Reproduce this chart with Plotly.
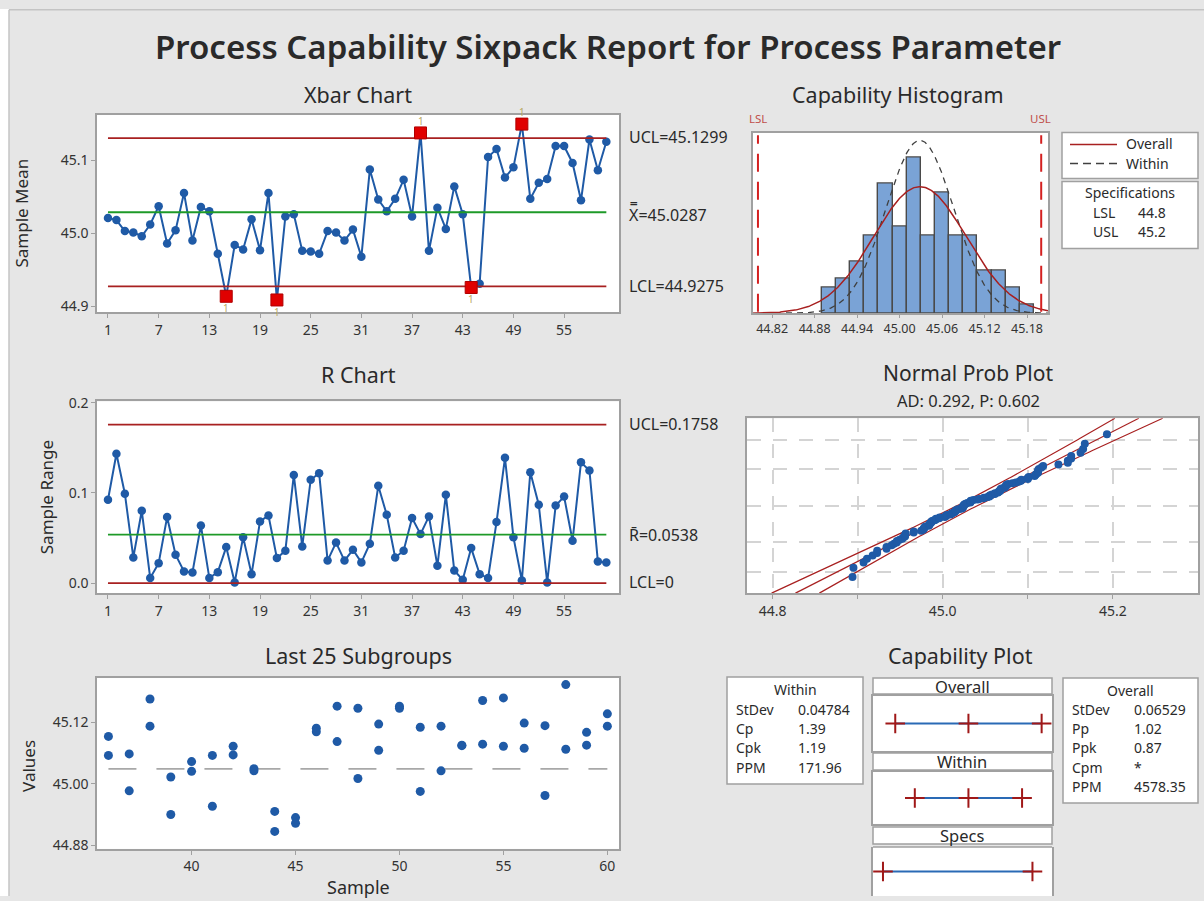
import numpy as np
import plotly.graph_objects as go
from statistics import NormalDist

W, H = 1204, 901

# ---------------- data ----------------
samples = list(range(1, 61))
xbar = [45.021, 45.018, 45.003, 45.001, 44.996, 45.012, 45.037, 44.986, 45.004, 45.055,
        44.990, 45.036, 45.030, 44.972, 44.914, 44.984, 44.978, 45.019, 44.977, 45.055,
        44.909, 45.023, 45.026, 44.976, 44.975, 44.972, 45.003, 45.001, 44.990, 45.005,
        44.968, 45.087, 45.046, 45.030, 45.047, 45.073, 45.023, 45.137, 44.976, 45.035,
        45.006, 45.064, 45.026, 44.926, 44.931, 45.104, 45.115, 45.076, 45.090, 45.149,
        45.047, 45.069, 45.074, 45.119, 45.119, 45.096, 45.045, 45.128, 45.086, 45.125]
rng = [0.0925, 0.1436, 0.0992, 0.0285, 0.0803, 0.0056, 0.0222, 0.0733, 0.0315, 0.0130,
       0.0118, 0.0640, 0.0056, 0.0122, 0.0400, 0.0007, 0.0510, 0.0100, 0.0685, 0.0750,
       0.0278, 0.0360, 0.1200, 0.0407, 0.1147, 0.1220, 0.0250, 0.0450, 0.0250, 0.0370,
       0.0230, 0.0437, 0.1080, 0.0759, 0.0285, 0.0359, 0.0722, 0.0544, 0.0740, 0.0192,
       0.0980, 0.0140, 0.0037, 0.0389, 0.0100, 0.0056, 0.0677, 0.1390, 0.0510, 0.0030,
       0.1230, 0.0870, 0.0007, 0.0860, 0.0960, 0.0470, 0.1340, 0.1250, 0.0240, 0.0230]
xbar_ucl, xbar_cl, xbar_lcl = 45.1299, 45.0287, 44.9275
r_ucl, r_cl, r_lcl = 0.1758, 0.0538, 0.0

last_samples = list(range(36, 61))
obs_a = [45.092, 45.058, 45.165, 45.013, 45.043, 45.055, 45.073, 45.029, 44.946, 44.934,
         45.108, 45.151, 45.147, 45.116, 45.151, 45.110, 45.112, 45.075, 45.162, 45.167,
         45.118, 45.113, 45.193, 45.100, 45.136]
obs_b = [45.055, 44.986, 45.112, 44.940, 45.024, 44.956, 45.056, 45.025, 44.907, 44.923,
         45.101, 45.082, 45.010, 45.065, 45.147, 44.985, 45.025, 45.074, 45.077, 45.073,
         45.069, 44.977, 45.067, 45.075, 45.112]

hist_bins = [44.90, 44.92, 44.94, 44.96, 44.98, 45.00, 45.02, 45.04, 45.06, 45.08,
             45.10, 45.12, 45.14, 45.16, 45.18]
hist_counts = [3, 4, 6, 9, 15, 10, 18, 9, 14, 9, 9, 5, 5, 3, 1]
bin_width = 0.02
n_total = 120

LSL, USL = 44.8, 45.2
mean_all = 45.0287
sd_within = 0.04784
sd_overall = 0.06529

xbar_ticks = [1, 7, 13, 19, 25, 31, 37, 43, 49, 55]
hist_ticks = [44.82, 44.88, 44.94, 45.00, 45.06, 45.12, 45.18]
last_ticks = [40, 45, 50, 55, 60]

within_stats = [("StDev", "0.04784"), ("Cp", "1.39"), ("Cpk", "1.19"), ("PPM", "171.96")]
overall_stats = [("StDev", "0.06529"), ("Pp", "1.02"), ("Ppk", "0.87"), ("Cpm", "*"), ("PPM", "4578.35")]

# ---------------- helpers ----------------
FONT = "Noto Sans"
BLUE = "#1f5aa6"
DRED = "#a82020"
GREEN = "#1e9a28"
BORDER = "#a0a0a0"
TXT = "#2a2a2a"

# vertical calibration of the photographed page (page pixels -> figure pixels)
Y_OFF, Y_SCALE = 7.3, 0.9854


def fy(y):
    return min(max((y - Y_OFF) / Y_SCALE, 0.0), H)


def px(x):
    return x / W


def py(y):
    return 1 - fy(y) / H


def xd(a, b):
    return [a / W, b / W]


def yd(top, bottom):
    return [1 - fy(bottom) / H, 1 - fy(top) / H]


def axis(domain, rng, anchor, **kw):
    d = dict(domain=domain, range=rng, anchor=anchor, showline=True, mirror=True,
             linecolor=BORDER, linewidth=1.5, showgrid=False, zeroline=False,
             ticks="outside", ticklen=4, tickcolor=BORDER,
             tickfont=dict(family=FONT, size=14, color="#333333"))
    d.update(kw)
    return d


fig = go.Figure()

# ---------------- Xbar chart ----------------
fig.add_trace(go.Scatter(x=samples, y=xbar, mode="lines+markers",
                         line=dict(color=BLUE, width=2),
                         marker=dict(color=BLUE, size=8.5, symbol="circle"),
                         xaxis="x", yaxis="y", showlegend=False))
for val, col in [(xbar_ucl, DRED), (xbar_cl, GREEN), (xbar_lcl, DRED)]:
    fig.add_trace(go.Scatter(x=[samples[0], samples[-1]], y=[val, val], mode="lines",
                             line=dict(color=col, width=1.8), xaxis="x", yaxis="y",
                             showlegend=False, hoverinfo="skip"))
out_x = [s for s, v in zip(samples, xbar) if v > xbar_ucl or v < xbar_lcl]
out_y = [v for v in xbar if v > xbar_ucl or v < xbar_lcl]
fig.add_trace(go.Scatter(x=out_x, y=out_y, mode="markers",
                         marker=dict(color="#e00000", size=12, symbol="square",
                                     line=dict(color="#b00000", width=1)),
                         xaxis="x", yaxis="y", showlegend=False))

# ---------------- R chart ----------------
fig.add_trace(go.Scatter(x=samples, y=rng, mode="lines+markers",
                         line=dict(color=BLUE, width=2),
                         marker=dict(color=BLUE, size=8.5),
                         xaxis="x2", yaxis="y2", showlegend=False))
for val, col in [(r_ucl, DRED), (r_cl, GREEN), (r_lcl, DRED)]:
    fig.add_trace(go.Scatter(x=[samples[0], samples[-1]], y=[val, val], mode="lines",
                             line=dict(color=col, width=1.8), xaxis="x2", yaxis="y2",
                             showlegend=False, hoverinfo="skip"))

# ---------------- Last 25 subgroups ----------------
fig.add_trace(go.Scatter(x=[last_samples[0], last_samples[-1]], y=[mean_all, mean_all], mode="lines",
                         line=dict(color="#a8a8a8", width=1.8, dash="28px,20px"),
                         xaxis="x3", yaxis="y3", showlegend=False, hoverinfo="skip"))
fig.add_trace(go.Scatter(x=last_samples + last_samples, y=obs_a + obs_b, mode="markers",
                         marker=dict(color=BLUE, size=9), xaxis="x3", yaxis="y3", showlegend=False))

# ---------------- Capability histogram ----------------
fig.add_trace(go.Bar(x=hist_bins, y=hist_counts, width=bin_width,
                     marker=dict(color="#7aa3d6", line=dict(color="#4a4a4a", width=1.4)),
                     xaxis="x4", yaxis="y4", showlegend=False))
xs = np.linspace(44.793, 45.2096, 400)


def npdf(x, m, s):
    return np.exp(-0.5 * ((x - m) / s) ** 2) / (s * np.sqrt(2 * np.pi))


fig.add_trace(go.Scatter(x=xs, y=n_total * bin_width * npdf(xs, mean_all, sd_within), mode="lines",
                         line=dict(color="#404040", width=1.3, dash="6px,5px"),
                         xaxis="x4", yaxis="y4", showlegend=False, hoverinfo="skip"))
fig.add_trace(go.Scatter(x=xs, y=n_total * bin_width * npdf(xs, mean_all, sd_overall), mode="lines",
                         line=dict(color=DRED, width=1.5),
                         xaxis="x4", yaxis="y4", showlegend=False, hoverinfo="skip"))
for v in (LSL, USL):
    fig.add_trace(go.Scatter(x=[v, v], y=[0.2, 20.6], mode="lines",
                             line=dict(color="#d42020", width=2, dash="18px,10px"),
                             xaxis="x4", yaxis="y4", showlegend=False, hoverinfo="skip"))

# ---------------- Normal probability plot ----------------
all_vals = []
for i in range(35):
    all_vals += [xbar[i] - rng[i] / 2, xbar[i] + rng[i] / 2]
all_vals += obs_a + obs_b
all_vals = np.sort(np.array(all_vals))
n = len(all_vals)
nd = NormalDist()
zq = np.array([nd.inv_cdf((i - 0.3) / (n + 0.4)) for i in range(1, n + 1)])
zz = np.linspace(-3.09, 3.09, 200)
center = mean_all + zz * sd_overall
half = 1.96 * sd_overall * np.sqrt(1 / n + zz ** 2 / (2 * n))
for xx in (center - half, center, center + half):
    fig.add_trace(go.Scatter(x=xx, y=zz, mode="lines", line=dict(color=DRED, width=1.2),
                             xaxis="x5", yaxis="y5", showlegend=False, hoverinfo="skip"))
fig.add_trace(go.Scatter(x=all_vals, y=zq, mode="markers", marker=dict(color=BLUE, size=8),
                         xaxis="x5", yaxis="y5", showlegend=False))

# ---------------- Capability plot ----------------
cap_rows = [("x6", "y6", mean_all - 3 * sd_overall, mean_all, mean_all + 3 * sd_overall),
            ("x7", "y7", mean_all - 3 * sd_within, mean_all, mean_all + 3 * sd_within),
            ("x8", "y8", LSL, None, USL)]
for xa, ya, lo, mid, hi in cap_rows:
    fig.add_trace(go.Scatter(x=[lo, hi], y=[0.5, 0.5], mode="lines", line=dict(color="#2a6ab5", width=2),
                             xaxis=xa, yaxis=ya, showlegend=False, hoverinfo="skip"))
    pts = [lo, hi] if mid is None else [lo, mid, hi]
    fig.add_trace(go.Scatter(x=pts, y=[0.5] * len(pts), mode="markers",
                             marker=dict(symbol="cross-thin", size=14, line=dict(color="#a01818", width=2)),
                             xaxis=xa, yaxis=ya, showlegend=False))

# ---------------- layout ----------------
hidden = dict(showticklabels=False, ticks="")
dash_grid = "14px,12px"
layout = dict(
    width=W, height=H, margin=dict(l=0, r=0, t=0, b=0),
    paper_bgcolor="#e6e6e6", plot_bgcolor="white", showlegend=False,
    font=dict(family=FONT, color=TXT), bargap=0,
    xaxis=axis(xd(97, 619), [-0.3, 61.5], "y", tickvals=xbar_ticks),
    yaxis=axis(yd(113, 311), [44.892, 45.162], "x", tickvals=[44.9, 45.0, 45.1],
               ticktext=["44.9", "45.0", "45.1"]),
    xaxis2=axis(xd(97, 619), [-0.3, 61.5], "y2", tickvals=xbar_ticks),
    yaxis2=axis(yd(400, 592), [-0.0111, 0.2017], "x2", tickvals=[0.0, 0.1, 0.2],
                ticktext=["0.0", "0.1", "0.2"]),
    xaxis3=axis(xd(97, 619), [35.45, 60.56], "y3", tickvals=last_ticks),
    yaxis3=axis(yd(677, 848), [44.873, 45.2057], "x3", tickvals=[44.88, 45.00, 45.12],
                ticktext=["44.88", "45.00", "45.12"]),
    xaxis4=axis(xd(753, 1048), [44.793, 45.2096], "y4", tickvals=hist_ticks,
                ticktext=[f"{t:.2f}" for t in hist_ticks], ticklen=3,
                tickfont=dict(family=FONT, size=12.5, color="#333333")),
    yaxis4=axis(yd(131, 312), [0, 20.92], "x4", **hidden),
    xaxis5=axis(xd(747, 1198), [44.77, 45.30], "y5", tickvals=[44.8, 44.9, 45.0, 45.1, 45.2],
                ticktext=["44.8", "", "45.0", "", "45.2"], showgrid=True, gridcolor="#d4d4d4",
                gridwidth=1.5, griddash=dash_grid),
    yaxis5=axis(yd(417, 592), [-3.09, 3.09], "x5", showticklabels=False, ticks="",
                tickvals=[-2.326, -1.2816, 0, 1.2816, 2.326], showgrid=True, gridcolor="#d4d4d4",
                gridwidth=1.5, griddash=dash_grid),
)
cap_dom = [(695, 750), (771, 823), (846, 901)]
for k, (t, b) in zip((6, 7, 8), cap_dom):
    layout[f"xaxis{k}"] = axis(xd(873, 1052), [44.7733, 45.2523], f"y{k}", **hidden)
    layout[f"yaxis{k}"] = axis(yd(t, b), [0, 1], f"x{k}", **hidden)
layout["xaxis8"]["showline"] = False

shapes = []
annotations = []


def rect(x0, y0, x1, y1, fill="white", line=BORDER, width=1.5):
    shapes.append(dict(type="rect", xref="paper", yref="paper", x0=px(x0), x1=px(x1),
                       y0=py(y1), y1=py(y0), fillcolor=fill, line=dict(color=line, width=width),
                       layer="above"))


def hline(x0, x1, y, color, width=1.5, dash=None):
    ln = dict(color=color, width=width)
    if dash:
        ln["dash"] = dash
    shapes.append(dict(type="line", xref="paper", yref="paper", x0=px(x0), x1=px(x1),
                       y0=py(y), y1=py(y), line=ln))


def text(x, y, s, size=16, anchor="center", color=TXT, weight=None, family=FONT, textangle=0):
    f = dict(family=family, size=size, color=color)
    if weight:
        f["weight"] = weight
    annotations.append(dict(x=px(x), y=py(y), xref="paper", yref="paper", text=s, showarrow=False,
                            xanchor=anchor, yanchor="middle", font=f, textangle=textangle))


# frame
shapes.append(dict(type="rect", xref="paper", yref="paper", x0=0, x1=px(9), y0=0, y1=1,
                   fillcolor="white", line=dict(width=0), layer="below"))
shapes.append(dict(type="rect", xref="paper", yref="paper", x0=0, x1=1, y0=py(8), y1=1,
                   fillcolor="white", line=dict(width=0), layer="below"))
shapes.append(dict(type="line", xref="paper", yref="paper", x0=px(9), x1=px(9), y0=0, y1=py(8),
                   line=dict(color="#c4c4c4", width=1.5)))
hline(9, 1204, 8, "#c4c4c4")
hline(873, 1052, 846, BORDER)  # top edge of specs box

# titles
text(608, 45, "Process Capability Sixpack Report for Process Parameter", size=33, weight=600)
text(358, 93, "Xbar Chart", size=21.5)
text(898, 93, "Capability Histogram", size=21.5)
text(358, 373, "R Chart", size=21.5)
text(968, 371.5, "Normal Prob Plot", size=21)
text(968, 399.5, "AD: 0.292, P: 0.602", size=16.5)
text(358, 654, "Last 25 Subgroups", size=21.5)
text(960, 654, "Capability Plot", size=21.5)

# axis titles
text(22, 212, "Sample Mean", size=17, textangle=-90)
text(46, 496, "Sample Range", size=17, textangle=-90)
text(29, 765, "Values", size=17, textangle=-90)
text(358, 886, "Sample", size=18)

# control limit labels
text(627, 135, f"UCL={xbar_ucl}", anchor="left")
text(627, 212, f"X\u033f={xbar_cl}", anchor="left")
text(627, 285, f"LCL={xbar_lcl}", anchor="left")
text(627, 423, f"UCL={r_ucl}", anchor="left")
text(627, 534, f"R\u0304={r_cl}", anchor="left")
text(627, 581, "LCL=0", anchor="left")

# out of control flags
for sx, sy in zip(out_x, out_y):
    annotations.append(dict(x=sx, y=sy, xref="x", yref="y", text="1", showarrow=False,
                            yshift=12 if sy > xbar_ucl else -12,
                            font=dict(family=FONT, size=10, color="#b8a860")))

# LSL / USL labels
text(747, 117, "LSL", size=11.5, anchor="left", color="#c0504d")
text(1053, 117, "USL", size=11.5, anchor="right", color="#c0504d")

# histogram legend
BOX_FS = 14
rect(1062, 131, 1198, 177)
hline(1070, 1117, 143, DRED)
hline(1070, 1117, 162, "#404040", dash="8px,5px")
text(1124, 142, "Overall", size=BOX_FS, anchor="left")
text(1124, 161.5, "Within", size=BOX_FS, anchor="left")
rect(1062, 180, 1198, 247)
text(1130, 191, "Specifications", size=BOX_FS)
text(1091, 211, "LSL", size=BOX_FS, anchor="left")
text(1136, 211, f"{LSL}", size=BOX_FS, anchor="left")
text(1091, 230.5, "USL", size=BOX_FS, anchor="left")
text(1136, 230.5, f"{USL}", size=BOX_FS, anchor="left")

# capability stats boxes
rect(727, 676, 863, 783)
text(795, 688, "Within", size=BOX_FS)
for i, (lab, val) in enumerate(within_stats):
    yy = 708 + i * 19.5
    text(734, yy, lab, size=BOX_FS, anchor="left")
    text(796, yy, val, size=BOX_FS, anchor="left")
rect(1063, 677, 1198, 802)
text(1130, 689, "Overall", size=BOX_FS)
for i, (lab, val) in enumerate(overall_stats):
    yy = 708 + i * 19.4
    text(1070, yy, lab, size=BOX_FS, anchor="left")
    text(1132, yy, val, size=BOX_FS, anchor="left")

# capability plot headers
for (t, b), lab in zip([(677, 693), (752, 769), (826, 843)], ["Overall", "Within", "Specs"]):
    rect(873, t, 1052, b)
    text(962, (t + b) / 2, lab, size=16.5)

layout["shapes"] = shapes
layout["annotations"] = annotations
fig.update_layout(**layout)

page_fix = (
    "document.documentElement.style.margin='0';"
    "document.documentElement.style.overflow='hidden';"
    "document.documentElement.style.height='901px';"
    "document.body.style.margin='0';"
    "document.body.style.overflow='hidden';"
    "document.body.style.height='901px';"
    "var gd=document.getElementById('{plot_id}');"
    "gd.parentElement.style.height='901px';gd.parentElement.style.overflow='hidden';"
)
fig.write_html("out.html", config={"displayModeBar": False}, post_script=page_fix)
